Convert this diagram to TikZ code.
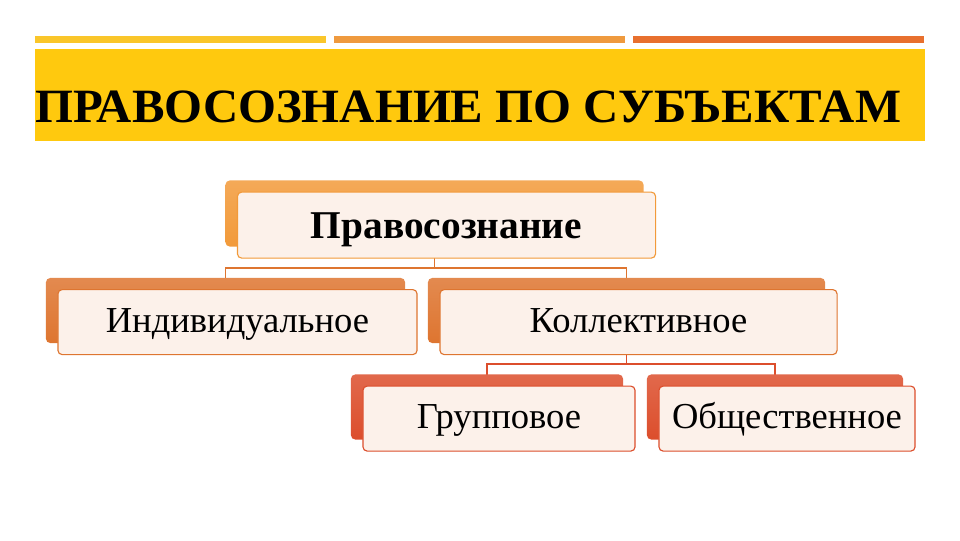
\documentclass[tikz,border=0pt]{standalone}
\usepackage{fontspec}
\setmainfont{Liberation Serif}
\usetikzlibrary{positioning,calc,backgrounds}
\definecolor{band}{HTML}{FFC90E}
\definecolor{barA}{HTML}{FAC62A}
\definecolor{barB}{HTML}{EF9A3E}
\definecolor{barC}{HTML}{E8702E}
\definecolor{lvlA}{HTML}{F29A3A}
\definecolor{lvlB}{HTML}{DE7530}
\definecolor{lvlC}{HTML}{DC4E2C}
\definecolor{pale}{HTML}{FCF1EA}

\begin{document}
\begin{tikzpicture}[x=0.025cm,y=-0.025cm,
    back/.style={rounded corners=3pt,top color=#1!85!white,bottom color=#1,inner sep=0pt},
    front/.style={rounded corners=3pt,fill=pale,draw=#1,line width=0.8pt,inner sep=0pt,text height=14.2pt,text depth=0pt,font=\fontsize{26}{30}\selectfont},
    conn/.style={draw=#1,line width=1.1pt}]
\useasboundingbox (0,0) rectangle (960,540);
\foreach \c [count=\n] in {barA,barB,barC}
    \fill[\c] ({35+(\n-1)*299},36) rectangle ++(291,7);
\fill[band] (35,49) rectangle (925,141);
\node[anchor=base west,inner sep=0pt,font=\bfseries\fontsize{34}{40}\selectfont,xscale=1.02,transform shape] (title) at (35,122) {ПРАВОСОЗНАНИЕ ПО СУБЪЕКТАМ};

\node[back=lvlA,minimum width=10.45cm,minimum height=1.65cm] (topb) at (434.5,213.5) {};
\node[front=lvlA,minimum width=10.45cm,minimum height=1.65cm,xshift=0.3cm,yshift=-0.29cm,text height=18.5pt,font=\bfseries\fontsize{28}{32}\selectfont] (top) at (topb) {Правосознание};

\node[back=lvlB,minimum width=8.975cm,minimum height=1.625cm] (indb) at (225.5,310.5) {};
\node[front=lvlB,minimum width=8.975cm,minimum height=1.625cm,xshift=0.3cm,yshift=-0.29cm] (ind) at (indb) {Индивидуальное};
\node[back=lvlB,minimum width=9.925cm,minimum height=1.625cm] (kolb) at (626.5,310.5) {};
\node[front=lvlB,minimum width=9.925cm,minimum height=1.625cm,xshift=0.3cm,yshift=-0.29cm] (kol) at (kolb) {Коллективное};

\node[back=lvlC,minimum width=6.8cm,minimum height=1.625cm] (grpb) at (487,407) {};
\node[front=lvlC,minimum width=6.8cm,minimum height=1.625cm,xshift=0.3cm,yshift=-0.29cm] (grp) at (grpb) {Групповое};
\node[back=lvlC,minimum width=6.4cm,minimum height=1.625cm] (obsb) at (775,407) {};
\node[front=lvlC,minimum width=6.4cm,minimum height=1.625cm,xshift=0.3cm,yshift=-0.29cm] (obs) at (obsb) {Общественное};

\begin{scope}[on background layer]
\coordinate (hubA) at ($(topb.center)+(0,54.5)$);
\coordinate (hubB) at ($(kolb.center)+(0,53.5)$);
\draw[conn=lvlB] (topb.center) -- (hubA) -| (indb.center);
\draw[conn=lvlB] (hubA) -| (kolb.center);
\draw[conn=lvlC] (kolb.center) -- (hubB) -| (grpb.center);
\draw[conn=lvlC] (hubB) -| (obsb.center);
\end{scope}
\end{tikzpicture}
\end{document}
